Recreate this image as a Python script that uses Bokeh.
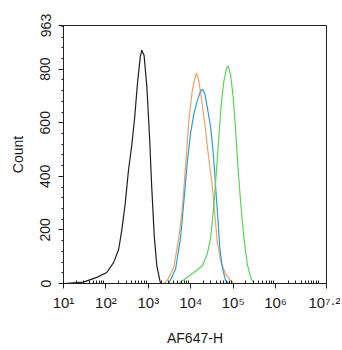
from bokeh.plotting import figure
from bokeh.models import FixedTicker, Range1d
from bokeh.embed import file_html
from bokeh.resources import INLINE

# ---- data (x as log10 of AF647-H, y as counts) ----
black_log = [1.0, 1.47, 1.785, 2.02, 2.18, 2.30, 2.375, 2.455, 2.53, 2.61, 2.675,
             2.745, 2.81, 2.845, 2.90, 2.965, 3.03, 3.08, 3.14, 3.20, 3.28, 3.31]
black_cnt = [0, 5, 23, 41, 78, 127, 200, 298, 420, 517, 615,
             749, 846, 871, 851, 735, 542, 359, 176, 66, 5, 0]

orange_log = [3.366, 3.446, 3.601, 3.719, 3.800, 3.854, 3.901, 3.955, 4.035, 4.097, 4.137,
              4.191, 4.271, 4.349, 4.427, 4.507, 4.561, 4.625, 4.703, 4.821, 4.939, 5.017]
orange_cnt = [0, 11, 60, 170, 279, 389, 487, 609, 718, 767, 785,
              755, 670, 572, 462, 365, 267, 157, 84, 35, 11, 0]

blue_log = [3.483, 3.642, 3.759, 3.837, 3.917, 3.995, 4.073, 4.153, 4.231, 4.278,
            4.333, 4.389, 4.467, 4.531, 4.585, 4.639, 4.686, 4.743, 4.821, 4.899]
blue_cnt = [0, 54, 170, 304, 450, 560, 633, 682, 718, 725,
            707, 658, 585, 487, 365, 243, 133, 60, 11, 0]

green_log = [3.719, 3.917, 4.073, 4.271, 4.389, 4.467, 4.545, 4.608, 4.663, 4.719, 4.781,
             4.844, 4.884, 4.939, 5.002, 5.057, 5.111, 5.175, 5.252, 5.333, 5.410, 5.488]
green_cnt = [0, 23, 41, 66, 109, 170, 292, 426, 548, 670, 755,
             804, 812, 779, 694, 572, 438, 304, 170, 72, 23, 0]

x_tick_exps = [1, 2, 3, 4, 5, 6, 7.2]
x_tick_labels = ["10\u00b9", "10\u00b2", "10\u00b3", "10\u2074", "10\u2075", "10\u2076",
                 "10\u2077\u00b7\u00b2"]
y_ticks = [0, 200, 400, 600, 800, 963]
y_max = 963
x_label = "AF647-H"
y_label = "Count"

FONT = "Liberation Sans"
TXT = "#1a1a1a"
AX = "#222222"

p = figure(width=340, height=348, x_axis_type="log",
           x_range=Range1d(10 ** 1, 10 ** 7.2), y_range=Range1d(0, y_max),
           output_backend="svg", toolbar_location=None,
           min_border_left=63, min_border_right=14, min_border_top=25, min_border_bottom=60)
p.background_fill_color = "white"
p.border_fill_color = "white"
p.outline_line_color = AX
p.outline_line_width = 1
p.xgrid.visible = False
p.ygrid.visible = False

# curves
for xs, ys, col in [(black_log, black_cnt, "#1e1e1e"),
                    (orange_log, orange_cnt, "#f2a062"),
                    (blue_log, blue_cnt, "#2e9fd2"),
                    (green_log, green_cnt, "#5cd356")]:
    p.line([10 ** v for v in xs], ys, line_color=col, line_width=1.2)

# x axis
major_x = [10 ** e for e in x_tick_exps]
minor_x = [m * 10 ** k for k in range(1, 7) for m in range(2, 10)] + [10 ** 7]
p.xaxis.ticker = FixedTicker(ticks=major_x, minor_ticks=minor_x)
p.xaxis.major_label_overrides = {t: lab for t, lab in zip(major_x, x_tick_labels)}
p.xaxis.major_label_text_font = FONT
p.xaxis.major_label_text_font_size = "15px"
p.xaxis.major_label_text_color = TXT
p.xaxis.major_label_standoff = 5
p.xaxis.axis_label = x_label
p.xaxis.axis_label_text_font = FONT
p.xaxis.axis_label_text_font_size = "14px"
p.xaxis.axis_label_text_font_style = "normal"
p.xaxis.axis_label_text_color = TXT
p.xaxis.axis_label_standoff = 16
p.xaxis.axis_line_color = AX
p.xaxis.major_tick_line_color = AX
p.xaxis.minor_tick_line_color = AX
p.xaxis.major_tick_out = 5
p.xaxis.major_tick_in = 0
p.xaxis.minor_tick_out = 0
p.xaxis.minor_tick_in = 3

# y axis
minor_y = [v for v in range(40, 961, 40) if v % 200 != 0]
p.yaxis.ticker = FixedTicker(ticks=y_ticks, minor_ticks=minor_y)
p.yaxis.major_label_orientation = "vertical"
p.yaxis.major_label_text_font = FONT
p.yaxis.major_label_text_font_size = "14px"
p.yaxis.major_label_text_color = TXT
p.yaxis.major_label_standoff = 8
p.yaxis.axis_label = y_label
p.yaxis.axis_label_text_font = FONT
p.yaxis.axis_label_text_font_size = "14px"
p.yaxis.axis_label_text_font_style = "normal"
p.yaxis.axis_label_text_color = TXT
p.yaxis.axis_label_standoff = 12
p.yaxis.axis_line_color = AX
p.yaxis.major_tick_line_color = AX
p.yaxis.minor_tick_line_color = AX
p.yaxis.major_tick_out = 5
p.yaxis.major_tick_in = 0
p.yaxis.minor_tick_out = 2
p.yaxis.minor_tick_in = 0

open("out.html", "w").write(file_html(p, INLINE))
